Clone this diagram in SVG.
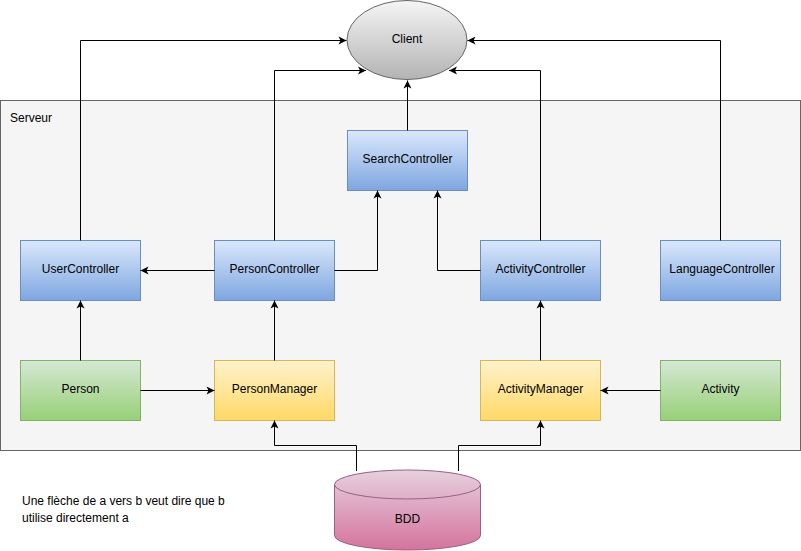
<svg xmlns="http://www.w3.org/2000/svg" width="801" height="551" viewBox="0 0 801 551">
<style>
text{font-family:"Liberation Sans",Arial,sans-serif;font-size:12px;fill:#000;}
.c{text-anchor:middle;}
.blue{fill:url(#gBlue);stroke:#6c8ebf;stroke-width:1;}
.green{fill:url(#gGreen);stroke:#82b366;stroke-width:1;}
.yellow{fill:url(#gYellow);stroke:#d6b656;stroke-width:1;}
.edge{fill:none;stroke:#000;stroke-width:1;marker-end:url(#arr);}
</style>
<defs>
<linearGradient id="gBlue" x1="0" y1="0" x2="0" y2="1"><stop offset="0" stop-color="#dae8fc"/><stop offset="1" stop-color="#7ea6e0"/></linearGradient>
<linearGradient id="gGreen" x1="0" y1="0" x2="0" y2="1"><stop offset="0" stop-color="#d5e8d4"/><stop offset="1" stop-color="#97d077"/></linearGradient>
<linearGradient id="gYellow" x1="0" y1="0" x2="0" y2="1"><stop offset="0" stop-color="#fff2cc"/><stop offset="1" stop-color="#ffd966"/></linearGradient>
<linearGradient id="gGray" x1="0" y1="0" x2="0" y2="1"><stop offset="0" stop-color="#f5f5f5"/><stop offset="1" stop-color="#b3b3b3"/></linearGradient>
<linearGradient id="gPink" gradientUnits="userSpaceOnUse" x1="0" y1="470" x2="0" y2="550"><stop offset="0" stop-color="#e6d0de"/><stop offset="1" stop-color="#d5739d"/></linearGradient>
<marker id="arr" viewBox="0 0 10 10" refX="9" refY="5" markerWidth="10" markerHeight="10" orient="auto" markerUnits="userSpaceOnUse"><path d="M9,5 L1,1 L3,5 L1,9 Z" fill="#000"/></marker>
</defs>

<g id="serveur">
<rect x="0.5" y="100.5" width="800" height="350" fill="#f5f5f5" stroke="#666666"/>
<text x="10" y="122">Serveur</text>
</g>

<g id="client">
<ellipse cx="407" cy="40" rx="60" ry="39.5" fill="url(#gGray)" stroke="#666666"/>
<text class="c" x="407" y="43">Client</text>
</g>

<g id="searchController">
<rect class="blue" x="347.5" y="130.5" width="120" height="60"/>
<text class="c" x="407.5" y="163">SearchController</text>
</g>
<g id="userController">
<rect class="blue" x="20.5" y="240.5" width="120" height="60"/>
<text class="c" x="80.5" y="273">UserController</text>
</g>
<g id="personController">
<rect class="blue" x="214.5" y="240.5" width="120" height="60"/>
<text class="c" x="274.5" y="273">PersonController</text>
</g>
<g id="activityController">
<rect class="blue" x="480.5" y="240.5" width="120" height="60"/>
<text class="c" x="540.5" y="273">ActivityController</text>
</g>
<g id="languageController">
<rect class="blue" x="660.5" y="240.5" width="120" height="60"/>
<text class="c" x="722" y="273">LanguageController</text>
</g>
<g id="person">
<rect class="green" x="20.5" y="360.5" width="120" height="60"/>
<text class="c" x="80.5" y="393">Person</text>
</g>
<g id="personManager">
<rect class="yellow" x="214.5" y="360.5" width="120" height="60"/>
<text class="c" x="274.5" y="393">PersonManager</text>
</g>
<g id="activityManager">
<rect class="yellow" x="480.5" y="360.5" width="120" height="60"/>
<text class="c" x="540.5" y="393">ActivityManager</text>
</g>
<g id="activity">
<rect class="green" x="660.5" y="360.5" width="120" height="60"/>
<text class="c" x="720.5" y="393">Activity</text>
</g>

<g id="bdd">
<path d="M334.5,484.5 A73,14.5 0 0 1 480.5,484.5 L480.5,535.5 A73,14.5 0 0 1 334.5,535.5 Z" fill="url(#gPink)" stroke="#996185"/>
<path d="M334.5,484.5 A73,14.5 0 0 0 480.5,484.5" fill="none" stroke="#996185"/>
<text class="c" x="407.5" y="523">BDD</text>
</g>

<g id="note">
<text x="22" y="505">Une flèche de a vers b veut dire que b</text>
<text x="22" y="522">utilise directement a</text>
</g>

<g id="connectors">
<path class="edge" d="M80.5,240.5 V40.5 H346.5"/>
<path class="edge" d="M274.5,240.5 V70.5 H366"/>
<path class="edge" d="M407.5,130.5 V80.5"/>
<path class="edge" d="M540.5,240.5 V70.5 H449"/>
<path class="edge" d="M720.5,240.5 V40.5 H467.5"/>
<path class="edge" d="M334.5,270.5 H377.5 V190.5"/>
<path class="edge" d="M480.5,270.5 H437.5 V190.5"/>
<path class="edge" d="M214.5,270.5 H140.5"/>
<path class="edge" d="M80.5,360.5 V300.5"/>
<path class="edge" d="M140.5,390.5 H214.5"/>
<path class="edge" d="M274.5,360.5 V300.5"/>
<path class="edge" d="M540.5,360.5 V300.5"/>
<path class="edge" d="M660.5,390.5 H600.5"/>
<path class="edge" d="M356.5,471 V445.5 H274.5 V420.5"/>
<path class="edge" d="M458.5,471 V445.5 H540.5 V420.5"/>
</g>
</svg>
